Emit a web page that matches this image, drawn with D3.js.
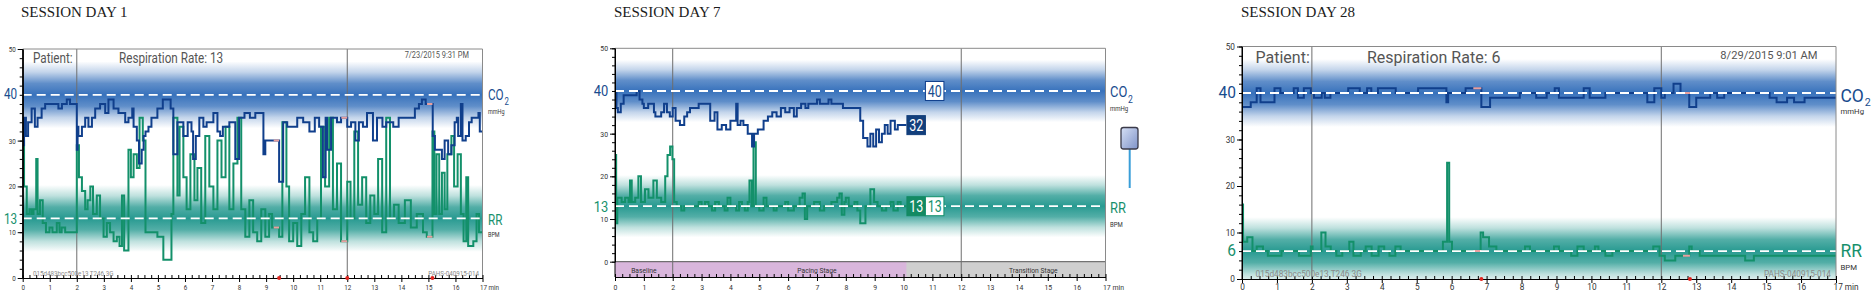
<!DOCTYPE html>
<html>
<head>
<meta charset="utf-8">
<script src="https://cdn.jsdelivr.net/npm/d3@7"></script>
<style>
  body { margin: 0; background: #fff; }
  svg text { font-family: Roboto, "Liberation Sans", sans-serif; }
  .title { font-family: "Liberation Serif", "Times New Roman", serif; fill: #1b1b1b; }
</style>
</head>
<body>
<svg id="chart" width="1875" height="293"></svg>
<script>
// ---- data: [minute, value] change points of each step trace ----
var day1Co2 = [[0,29],[0.05,35],[0.12,31],[0.2,34],[0.33,37],[0.45,33],[0.55,35],[0.7,37],[0.83,38],[1.32,37],[1.45,38],[1.63,39],[1.75,38],
  [2.0,28],[2.03,33],[2.06,31],[2.19,33],[2.31,35],[2.43,33],[2.56,35],[2.68,37],[2.86,38],[3.05,36],[3.17,39],[3.36,37],[3.54,36],[3.79,34],[3.91,35],[4.05,37],[4.1,33],[4.22,30],[4.3,25],[4.4,28],[4.47,31],[4.54,32],[4.65,33],[4.76,35],[4.98,37],[5.18,39],[5.47,37],[5.57,27],[5.72,34],[5.94,31],[6.1,34],[6.24,32],[6.3,26],[6.4,31],[6.53,35],[6.68,33],[6.8,34],[7.05,36],[7.2,32],[7.3,31],[7.4,33],[7.64,34],[7.86,26],[8.0,35],[8.2,36],[8.4,35],[8.6,36],[8.9,27],[8.97,30],
  [9.48,21],[9.63,34],[9.78,33],[10.15,35],[10.37,34],[10.6,32],[10.8,35],[10.96,33],[11.1,22],[11.2,35],[11.25,28],[11.4,35],[11.62,34],[11.77,35],
  [12.0,33],[12.14,34],[12.3,30],[12.43,34],[12.58,33],[12.73,36],[12.95,30],[13.1,35],[13.3,33],[13.44,34],[13.7,33],[13.9,35],[14.5,37],[14.65,38],[14.76,39],[14.9,38],
  [15.16,31],[15.24,28],[15.36,28],[15.5,26],[15.6,30],[15.73,27],[15.85,29],[15.97,34],[16.05,35],[16.1,31],[16.2,38],[16.26,30],[16.38,31],[16.5,34],[16.6,35],[16.85,36],[16.9,32]];
var day1Rr = [[0,30],[0.05,20],[0.15,14],[0.25,15],[0.33,14],[0.4,15],[0.5,26],[0.55,14],[0.64,17],[0.74,12],[0.86,10],[0.99,11],[1.1,10],[1.26,12],[1.36,10],[1.44,11],[1.57,10],
  [2.0,29],[2.08,22],[2.19,19],[2.31,15],[2.4,17],[2.5,20],[2.6,14],[2.74,18],[2.86,13],[2.99,9],[3.11,12],[3.23,10],[3.36,8],[3.48,9],[3.58,7],[3.67,18],[3.75,6],[3.91,28],[4.0,22],[4.1,27],[4.22,24],[4.32,35],[4.44,30],[4.54,10],[4.98,9],[5.2,4],[5.5,14],[5.57,35],[5.72,18],[5.8,33],[5.94,22],[6.06,15],[6.2,27],[6.35,17],[6.46,24],[6.6,12],[6.75,31],[6.9,20],[7.05,15],[7.2,30],[7.35,22],[7.5,33],[7.64,15],[7.79,25],[7.94,35],[8.08,15],[8.23,9],[8.38,17],[8.52,10],[8.67,8],[8.82,15],[8.97,9],[9.11,14],[9.22,11],[9.48,9],[9.6,34],[9.75,20],[9.85,8],[10.0,12],[10.15,7],[10.3,14],[10.44,22],[10.6,10],[10.74,8],[10.89,13],[11.03,33],[11.18,20],[11.33,35],[11.47,15],[11.62,25],[11.77,8],
  [12.0,21],[12.12,13],[12.26,32],[12.4,16],[12.55,22],[12.7,12],[12.85,18],[13.0,14],[13.14,26],[13.29,10],[13.44,35],[13.58,13],[13.73,16],[13.9,12],[14.13,17],[14.35,11],[14.57,14],[14.8,10],[14.94,9],
  [15.15,32],[15.22,14],[15.3,27],[15.4,14],[15.5,23],[15.6,15],[15.7,27],[15.85,31],[15.95,20],[16.08,27],[16.2,14],[16.3,8],[16.4,22],[16.47,7],[16.66,8],[16.78,14],[16.87,10]];
var day1Gaps = [[9.28,9.48],[11.78,12.0],[14.95,15.15]];

var day7Co2 = [[0,40],[0.05,36],[0.1,35],[0.2,37],[0.3,39],[0.75,40],[0.85,38],[0.95,37],[1.0,36],[1.15,37],[1.35,35],[1.4,34],[1.6,35],[1.7,37],[1.8,35],[1.9,34],[2.0,36],[2.1,33],[2.25,32],[2.4,34],[2.5,35],[2.6,36],[2.9,37],[3.3,33],[3.45,35],[3.55,31],[3.7,32],[3.85,31],[4.0,33],[4.2,37],[4.25,32],[4.35,33],[4.45,32],[4.6,30],[4.75,27],[4.82,30],[4.95,31],[5.15,33],[5.3,34],[5.45,35],[5.6,34],[5.75,36],[5.9,35],[6.05,36],[6.2,34],[6.3,36],[6.45,37],[6.6,36],[6.7,37],[7.0,38],[7.1,37],[7.4,38],[7.5,37],[7.9,36],[8.5,33],[8.6,29],[8.75,27],[8.85,30],[8.95,27],[9.05,31],[9.15,28],[9.25,30],[9.35,32],[9.45,30],[9.55,33],[9.7,31],[9.8,32]];
var day7Rr = [[0,25],[0.04,9],[0.08,15],[0.23,14],[0.35,15],[0.47,14],[0.52,19],[0.58,14],[0.7,15],[0.81,20],[0.9,14],[1.04,17],[1.16,15],[1.33,19],[1.45,15],[1.6,14],[1.74,20],[1.82,25],[1.91,27],[1.99,24],[2.05,14],[2.14,13],[2.3,12],[2.4,13],[2.9,14],[3.0,13],[3.12,14],[3.24,13],[3.36,12],[3.47,14],[3.6,13],[3.8,12],[3.9,15],[4.0,13],[4.2,12],[4.3,14],[4.4,13],[4.5,12],[4.6,14],[4.66,19],[4.74,13],[4.8,28],[4.88,13],[5.0,12],[5.15,15],[5.25,13],[5.5,12],[5.6,13],[5.9,14],[6.0,12],[6.2,13],[6.4,15],[6.5,16],[6.58,10],[6.66,13],[6.9,14],[7.1,12],[7.25,13],[7.5,14],[7.7,15],[7.78,16],[7.86,11],[7.95,14],[8.0,15],[8.1,13],[8.3,14],[8.4,12],[8.5,9],[8.68,13],[8.85,17],[8.98,14],[9.1,13],[9.25,12],[9.4,13],[9.55,14],[9.65,12],[9.8,14],[9.9,13]];
var day7Latest = {co2: 32, rr: 13};

var day28Co2 = [[0,37],[0.25,38],[0.42,41],[0.53,38],[0.93,41],[1.1,40],[1.48,41],[1.6,39],[1.77,41],[1.97,40],[2.06,39],[2.28,40],[2.37,39],[2.53,40],[3.04,41],[3.37,40],[3.58,41],[3.7,40],[3.89,41],[4.4,40],[5.04,41],[5.85,38],[5.9,40],[6.4,41],[6.85,37],[7.1,39],[7.95,40],[8.42,39],[8.72,40],[8.95,41],[9.07,39],[9.78,41],[9.95,39],[10.4,40],[11.6,38],[11.8,41],[12.0,39],[12.1,40],[12.35,42],[12.55,40],[12.8,37],[13.0,39],[13.4,40],[13.6,39],[13.8,40],[15.1,39],[15.3,38],[15.6,39],[15.8,38],[16.1,39]];
var day28Rr = [[0,16],[0.03,8],[0.15,9],[0.3,6],[0.42,7],[0.6,6],[0.74,5],[1.13,6],[1.63,5],[1.97,7],[2.02,6],[2.27,10],[2.39,7],[2.54,6],[2.7,5],[2.87,6],[3.07,8],[3.19,5],[3.4,6],[3.54,7],[3.71,5],[3.91,7],[4.07,6],[4.22,5],[4.39,7],[4.54,6],[5.75,8],[5.87,25],[5.93,8],[6.01,6],[6.83,10],[6.9,9],[7.07,7],[7.28,6],[8.1,7],[8.24,6],[8.93,7],[9.07,6],[9.42,5],[9.6,7],[9.78,6],[10.1,7],[10.2,6],[10.4,5],[10.6,6],[11.77,7],[11.95,5],[12.1,4],[12.4,5],[12.8,7],[12.87,6],[13.1,5],[14.4,4],[14.65,5]];
var day28Gaps = [[6.62,6.85],[12.62,12.82]];

var minutes = d3.range(0, 18);
var quarterTicks = d3.range(0, 17.001, 0.25);
var smallYLabels = [0, 10, 20, 30, 50];
var phaseLines = [2, 12];
var co2Target = 40;
var bandHalf = 7.3;
var stageNames = ["Baseline", "Pacing Stage", "Transition Stage"];
var stageBounds = [0, 2, 12, 17];
var day7Progress = 10.1;

var CO2C = "#103f8c", RRC = "#13906a", CO2TXT = "#184c8e", RRTXT = "#17906c";

var panels = [
  {id: "d1", title: "SESSION DAY 1", tx: 21, x0: 22.7, x1: 482.5, yTop: 49, yZero: 278, yAxis: 278,
   co2: day1Co2, rr: day1Rr, end: 17, rrTarget: 13, gaps: day1Gaps, sq: 0.78,
   head: {patient: "Patient:", px: 33, rate: "Respiration Rate: 13", rx: 119, y: 62.5, size: 15,
          date: "7/23/2015 9:31 PM", dx: 469, dy: 58, dsize: 9.5},
   foot: {left: "015d483bcc500e13 T246 3G", right: "PAHS-040915-014", lx: 33, rx: 479, y: 275.5, size: 8},
   big: {size: 15, gap: 5.5, co2y: 99, rry: 224},
   lab: {x: 488, co: 15, coy: 100, suby: 105, sub: 10, mmy: 114, rry: 225, bpmy: 237, unit: 7},
   tick: 8},
  {id: "d7", title: "SESSION DAY 7", tx: 614, x0: 615, x1: 1105.5, yTop: 48.3, yZero: 261.7, yAxis: 277,
   co2: day7Co2, rr: day7Rr, end: day7Progress, rrTarget: 13, gaps: [], sq: 0.86,
   big: {size: 15, gap: 6.7, co2y: 96, rry: 211.5},
   lab: {x: 1110, co: 15, coy: 97.3, suby: 102.5, sub: 10, mmy: 111, rry: 212.7, bpmy: 227, unit: 7},
   tick: 8},
  {id: "d28", title: "SESSION DAY 28", tx: 1241, x0: 1242, x1: 1836, yTop: 46.5, yZero: 279, yAxis: 279,
   co2: day28Co2, rr: day28Rr, end: 17, rrTarget: 6, gaps: day28Gaps, sq: 0.97,
   head: {patient: "Patient:", px: 1255.5, rate: "Respiration Rate: 6", rx: 1367, y: 63, size: 16.5,
          date: "8/29/2015 9:01 AM", dx: 1817.5, dy: 59.3, dsize: 11.5},
   foot: {left: "015d483bcc500e13 T246 3G", right: "PAHS-040915-014", lx: 1255.5, rx: 1831, y: 276.5, size: 8.5},
   big: {size: 16, gap: 6, co2y: 98, rry: 256},
   lab: {x: 1840.5, co: 18, coy: 101.7, suby: 105.5, sub: 11, mmy: 114, rry: 257.3, bpmy: 270, unit: 8},
   tick: 8.5}
];

var svg = d3.select("#chart");
var defs = svg.append("defs");

function bandGradient(id, color) {
  var gr = defs.append("linearGradient").attr("id", id)
    .attr("x1", 0).attr("x2", 0).attr("y1", 0).attr("y2", 1);
  [[0, 0], [0.16, 0.3], [0.33, 0.8], [0.5, 1], [0.67, 0.8], [0.84, 0.3], [1, 0]].forEach(function (s) {
    gr.append("stop").attr("offset", s[0]).attr("stop-color", color).attr("stop-opacity", s[1]);
  });
}
bandGradient("co2Band", "#3872bc");
bandGradient("rrBand", "#289a91");

var dev = defs.append("linearGradient").attr("id", "devFill")
  .attr("x1", 0).attr("x2", 1).attr("y1", 0).attr("y2", 1);
dev.append("stop").attr("offset", 0).attr("stop-color", "#d6e0f5");
dev.append("stop").attr("offset", 1).attr("stop-color", "#7f93c9");

function squeeze(sel, k) {
  sel.each(function () {
    var w = this.getComputedTextLength();
    if (w > 0) d3.select(this).attr("textLength", w * k).attr("lengthAdjust", "spacingAndGlyphs");
  });
  return sel;
}

function addText(g, x, y, str, size, fill, anchor, k) {
  var t = g.append("text").attr("x", x).attr("y", y).attr("font-size", size)
    .attr("fill", fill).attr("text-anchor", anchor || "start").text(str);
  squeeze(t, k);
  return t;
}

function valueAt(series, t) {
  var v = series[0][1];
  series.forEach(function (d) { if (d[0] <= t) v = d[1]; });
  return v;
}

function drawPanel(p) {
  var g = svg.append("g");
  var x = d3.scaleLinear().domain([0, 17]).range([p.x0, p.x1]);
  var y = d3.scaleLinear().domain([0, 50]).range([p.yZero, p.yTop]);

  g.append("text").attr("class", "title").attr("x", p.tx).attr("y", 17)
    .attr("font-size", 15).text(p.title);

  defs.append("clipPath").attr("id", "clip-" + p.id).append("rect")
    .attr("x", p.x0).attr("y", p.yTop).attr("width", p.x1 - p.x0).attr("height", p.yAxis - p.yTop);
  var plot = g.append("g").attr("clip-path", "url(#clip-" + p.id + ")");

  // target bands
  plot.append("rect").attr("x", p.x0).attr("width", p.x1 - p.x0)
    .attr("y", y(co2Target + bandHalf)).attr("height", y(co2Target - bandHalf) - y(co2Target + bandHalf))
    .attr("fill", "url(#co2Band)");
  plot.append("rect").attr("x", p.x0).attr("width", p.x1 - p.x0)
    .attr("y", y(p.rrTarget + bandHalf)).attr("height", y(p.rrTarget - bandHalf) - y(p.rrTarget + bandHalf))
    .attr("fill", "url(#rrBand)");

  // stage bar (day 7)
  if (p.id === "d7") {
    plot.append("rect").attr("x", x(0)).attr("width", x(17) - x(0))
      .attr("y", y(0)).attr("height", p.yAxis - y(0)).attr("fill", "#cfcfcf");
    plot.append("rect").attr("x", x(0)).attr("width", x(day7Progress) - x(0))
      .attr("y", y(0)).attr("height", p.yAxis - y(0)).attr("fill", "#d9b6dc");
    plot.append("line").attr("x1", x(0)).attr("x2", x(17)).attr("y1", y(0)).attr("y2", y(0))
      .attr("stroke", "#555").attr("stroke-width", 1);
    stageNames.forEach(function (name, i) {
      addText(g, x((stageBounds[i] + stageBounds[i + 1]) / 2), 273.3, name, 7.8, "#333", "middle", p.sq);
    });
  }

  // phase separators
  phaseLines.forEach(function (m) {
    plot.append("line").attr("x1", x(m)).attr("x2", x(m)).attr("y1", p.yTop).attr("y2", p.yAxis)
      .attr("stroke", "#6e6e6e").attr("stroke-width", 1);
  });

  // traces
  var line = d3.line().x(function (d) { return x(d[0]); }).y(function (d) { return y(d[1]); })
    .curve(d3.curveStepAfter);
  function withEnd(s) { return s.concat([[p.end, s[s.length - 1][1]]]); }
  plot.append("path").datum(withEnd(p.rr)).attr("d", line)
    .attr("fill", "none").attr("stroke", RRC).attr("stroke-width", 2);
  plot.append("path").datum(withEnd(p.co2)).attr("d", line)
    .attr("fill", "none").attr("stroke", CO2C).attr("stroke-width", 2);

  // data gaps
  p.gaps.forEach(function (gp) {
    [p.co2, p.rr].forEach(function (s) {
      var v = valueAt(s, gp[0] + 0.01);
      plot.append("line").attr("x1", x(gp[0])).attr("x2", x(gp[1])).attr("y1", y(v)).attr("y2", y(v))
        .attr("stroke", "#e8a0a0").attr("stroke-width", 2);
    });
  });

  // target dashed lines
  [co2Target, p.rrTarget].forEach(function (v) {
    plot.append("line").attr("x1", p.x0).attr("x2", p.x1).attr("y1", y(v)).attr("y2", y(v))
      .attr("stroke", "#fff").attr("stroke-width", 1.8).attr("stroke-dasharray", "9,5");
  });

  // frame
  g.append("path").attr("d", "M" + p.x0 + "," + p.yTop + "H" + p.x1 + "V" + p.yAxis)
    .attr("fill", "none").attr("stroke", "#8a8a8a").attr("stroke-width", 1);

  // y axis
  var yMinor = d3.axisLeft(y).tickValues(d3.range(0, 51, 2)).tickSize(3).tickSizeOuter(0).tickFormat("");
  var yMajor = d3.axisLeft(y).tickValues(smallYLabels).tickSize(5).tickSizeOuter(0).tickPadding(2);
  g.append("g").attr("transform", "translate(" + p.x0 + ",0)").call(yMinor);
  var ya = g.append("g").attr("transform", "translate(" + p.x0 + ",0)").call(yMajor)
    .attr("font-size", p.tick).attr("font-family", "Roboto");
  ya.selectAll("text").attr("fill", "#333");
  squeeze(ya.selectAll("text"), p.sq);
  g.append("line").attr("x1", p.x0).attr("x2", p.x0).attr("y1", p.yTop).attr("y2", p.yAxis)
    .attr("stroke", "#000");
  g.selectAll(".domain").attr("stroke", "#000");

  addText(g, p.x0 - p.big.gap, p.big.co2y, String(co2Target), p.big.size, CO2TXT, "end", p.sq);
  addText(g, p.x0 - p.big.gap, p.big.rry, String(p.rrTarget), p.big.size, RRTXT, "end", p.sq);

  // x axis
  var xMinor = d3.axisBottom(x).tickValues(quarterTicks).tickSize(-3).tickSizeOuter(0).tickFormat("");
  var xMajor = d3.axisBottom(x).tickValues(minutes).tickSize(4).tickSizeOuter(0)
    .tickFormat(function (d) { return d === 17 ? "17 min" : d; });
  g.append("g").attr("transform", "translate(0," + p.yAxis + ")").call(xMinor);
  var xa = g.append("g").attr("transform", "translate(0," + p.yAxis + ")").call(xMajor)
    .attr("font-size", p.tick).attr("font-family", "Roboto");
  // put the minute labels on a fixed baseline near the bottom edge
  xa.selectAll("text").attr("fill", "#333").attr("dy", null).attr("y", 290.3 - p.yAxis);
  xa.selectAll(".tick").filter(function (d) { return d === 17; }).select("text")
    .attr("text-anchor", "start").attr("x", -3);
  squeeze(xa.selectAll("text"), p.sq);

  // event dots
  p.gaps.forEach(function (gp) {
    g.append("circle").attr("cx", x(gp[1])).attr("cy", p.yAxis).attr("r", 2).attr("fill", "#e0241e");
  });

  // header and footer
  if (p.head) {
    addText(g, p.head.px, p.head.y, p.head.patient, p.head.size, "#555", "start", p.sq);
    addText(g, p.head.rx, p.head.y, p.head.rate, p.head.size, "#555", "start", p.sq);
    addText(g, p.head.dx, p.head.dy, p.head.date, p.head.dsize, "#555", "end", p.sq);
  }
  if (p.foot) {
    addText(g, p.foot.lx, p.foot.y, p.foot.left, p.foot.size, "#8a8a8a", "start", p.sq);
    addText(g, p.foot.rx, p.foot.y, p.foot.right, p.foot.size, "#8a8a8a", "end", p.sq);
  }

  // right side labels
  var co = addText(g, p.lab.x, p.lab.coy, "CO", p.lab.co, CO2TXT, "start", p.sq);
  var cw = co.node().getBBox().width;
  addText(g, p.lab.x + cw + 0.8, p.lab.suby, "2", p.lab.sub, CO2TXT, "start", p.sq);
  addText(g, p.lab.x, p.lab.mmy, "mmHg", p.lab.unit, "#333", "start", p.sq);
  addText(g, p.lab.x, p.lab.rry, "RR", p.lab.co, RRTXT, "start", p.sq);
  addText(g, p.lab.x, p.lab.bpmy, "BPM", p.lab.unit, "#333", "start", p.sq);

  // live value boxes and device icon (day 7)
  if (p.id === "d7") {
    var bx = x(day7Progress) + 0.5, bw = 18.5, bh = 19;
    function box(x0, yc, fill, stroke, txt, color) {
      g.append("rect").attr("x", x0).attr("y", yc - bh / 2).attr("width", bw).attr("height", bh)
        .attr("fill", fill).attr("stroke", stroke).attr("stroke-width", 1);
      addText(g, x0 + bw / 2, yc + 5.8, txt, 16, color, "middle", 0.78);
    }
    box(bx, y(day7Latest.co2), "#123f7c", "#123f7c", String(day7Latest.co2), "#fff");
    box(bx + bw, y(co2Target), "#fff", CO2C, String(co2Target), CO2TXT);
    box(bx, y(day7Latest.rr), "#138a63", "#138a63", String(day7Latest.rr), "#fff");
    box(bx + bw, y(p.rrTarget), "#fff", RRC, String(p.rrTarget), RRTXT);

    g.append("line").attr("x1", 1129.7).attr("x2", 1129.7).attr("y1", 149).attr("y2", 188)
      .attr("stroke", "#3a9ed8").attr("stroke-width", 2);
    g.append("rect").attr("x", 1121).attr("y", 127.5).attr("width", 17).attr("height", 21.5).attr("rx", 2.5)
      .attr("fill", "url(#devFill)").attr("stroke", "#3b3b4a").attr("stroke-width", 1.3);
  }
}

panels.forEach(drawPanel);
</script>
</body>
</html>
